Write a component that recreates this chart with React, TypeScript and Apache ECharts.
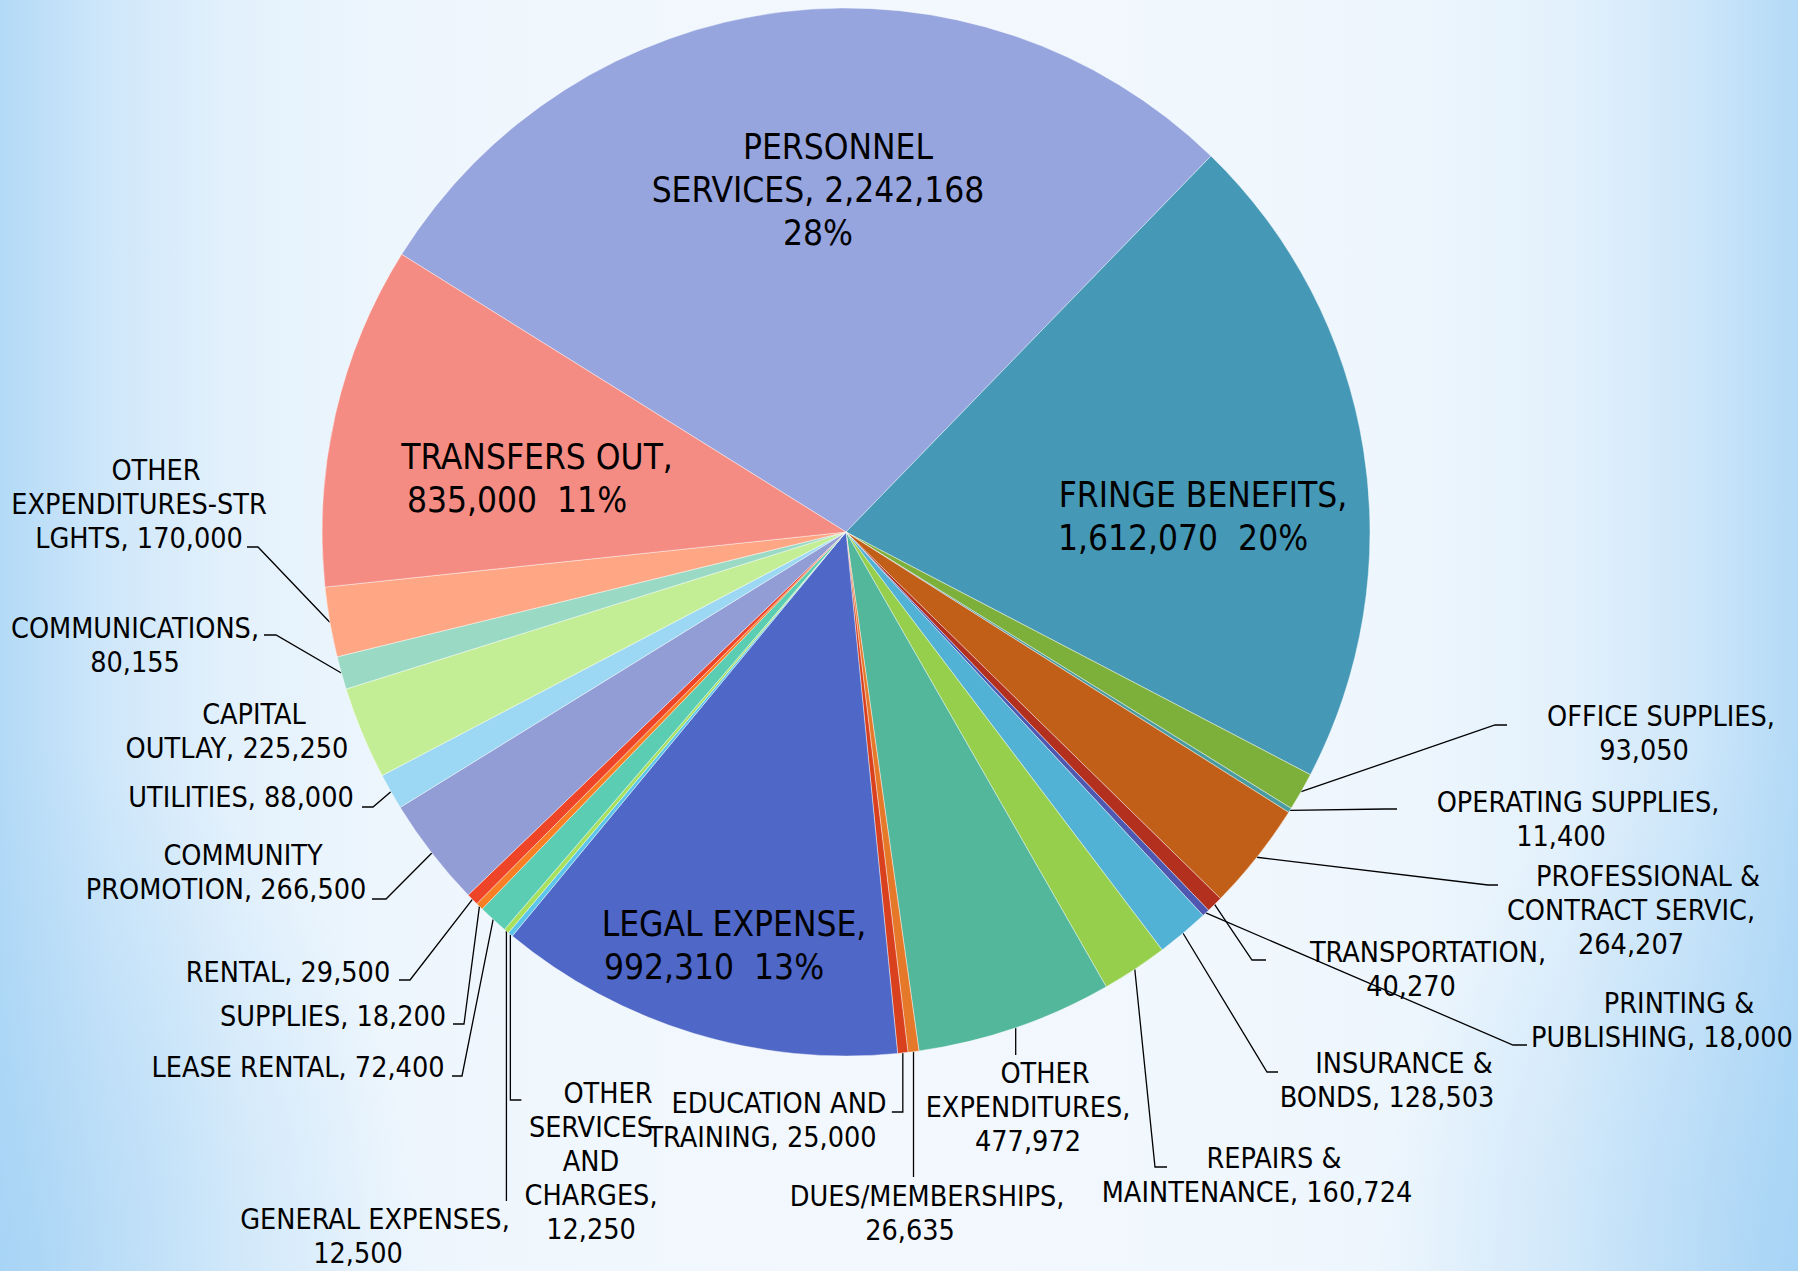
import React, { useEffect, useRef } from "react";
import * as echarts from "echarts";

// ---- data ----
const categories: string[] = [
  "PERSONNEL SERVICES",
  "FRINGE BENEFITS",
  "OFFICE SUPPLIES",
  "OPERATING SUPPLIES",
  "PROFESSIONAL & CONTRACT SERVIC",
  "TRANSPORTATION",
  "PRINTING & PUBLISHING",
  "INSURANCE & BONDS",
  "REPAIRS & MAINTENANCE",
  "OTHER EXPENDITURES",
  "DUES/MEMBERSHIPS",
  "EDUCATION AND TRAINING",
  "LEGAL EXPENSE",
  "OTHER SERVICES AND CHARGES",
  "GENERAL EXPENSES",
  "LEASE RENTAL",
  "SUPPLIES",
  "RENTAL",
  "COMMUNITY PROMOTION",
  "UTILITIES",
  "CAPITAL OUTLAY",
  "COMMUNICATIONS",
  "OTHER EXPENDITURES-STR LGHTS",
  "TRANSFERS OUT",
];

const values: number[] = [
  2242168, 1612070, 93050, 11400, 264207, 40270, 18000, 128503, 160724, 477972,
  26635, 25000, 992310, 12250, 12500, 72400, 18200, 29500, 266500, 88000, 225250,
  80155, 170000, 835000,
];

const colors: string[] = [
  "#96A5DE", "#4698B7", "#7DB03B", "#4A9BA0", "#C15F18", "#B3301F", "#4F58B0",
  "#52B2D6", "#95CF4B", "#52B79B", "#E6782A", "#D9401E", "#4F67C6", "#5BC5EC",
  "#A8E05C", "#5ACDB2", "#FA7E24", "#EE4428", "#929DD6", "#9CD8F3", "#C4EE95",
  "#9ADAC4", "#FFA784", "#F48C84",
];

// labels shown inside their slices (with percentage)
const insideNames: string[] = ["PERSONNEL SERVICES", "FRINGE BENEFITS", "TRANSFERS OUT", "LEGAL EXPENSE"];

// label wrapping (%v = value, %p = percent)
const NB = "\u00A0";
const labelLines: Record<string, string[]> = {
  "PERSONNEL SERVICES": ["PERSONNEL", "SERVICES, %v", "%p"],
  "FRINGE BENEFITS": ["FRINGE BENEFITS,", "%v" + NB + NB + "%p"],
  "TRANSFERS OUT": ["TRANSFERS OUT,", "%v" + NB + NB + "%p"],
  "LEGAL EXPENSE": ["LEGAL EXPENSE,", "%v" + NB + NB + "%p"],
  "OTHER EXPENDITURES-STR LGHTS": ["OTHER", "EXPENDITURES-STR", "LGHTS, %v"],
  "COMMUNICATIONS": ["COMMUNICATIONS,", "%v"],
  "CAPITAL OUTLAY": ["CAPITAL", "OUTLAY, %v"],
  "UTILITIES": ["UTILITIES, %v"],
  "COMMUNITY PROMOTION": ["COMMUNITY", "PROMOTION, %v"],
  "RENTAL": ["RENTAL, %v"],
  "SUPPLIES": ["SUPPLIES, %v"],
  "LEASE RENTAL": ["LEASE RENTAL, %v"],
  "GENERAL EXPENSES": ["GENERAL EXPENSES,", "%v"],
  "OTHER SERVICES AND CHARGES": ["OTHER", "SERVICES", "AND", "CHARGES,", "%v"],
  "EDUCATION AND TRAINING": ["EDUCATION AND", "TRAINING, %v"],
  "DUES/MEMBERSHIPS": ["DUES/MEMBERSHIPS,", "%v"],
  "OTHER EXPENDITURES": ["OTHER", "EXPENDITURES,", "%v"],
  "REPAIRS & MAINTENANCE": ["REPAIRS &", "MAINTENANCE, %v"],
  "INSURANCE & BONDS": ["INSURANCE &", "BONDS, %v"],
  "TRANSPORTATION": ["TRANSPORTATION,", "%v"],
  "PRINTING & PUBLISHING": ["PRINTING &", "PUBLISHING, %v"],
  "PROFESSIONAL & CONTRACT SERVIC": ["PROFESSIONAL &", "CONTRACT SERVIC,", "%v"],
  "OPERATING SUPPLIES": ["OPERATING SUPPLIES,", "%v"],
  "OFFICE SUPPLIES": ["OFFICE SUPPLIES,", "%v"],
};

// ---- label layout (positions of label blocks and leader-line ends) ----
type LineSpec = { elbow?: number[]; end?: number[]; downTo?: number; tick?: number };
type Spec = { x: number; y: number; noShift?: boolean; line?: LineSpec };
const layoutSpec: Record<string, Spec> = {
  "PERSONNEL SERVICES": { x: 818, y: 190 },
  "FRINGE BENEFITS": { x: 1183, y: 516 },
  "TRANSFERS OUT": { x: 517, y: 478 },
  "LEGAL EXPENSE": { x: 714, y: 945 },
  "OTHER EXPENDITURES-STR LGHTS": { x: 139, y: 504, line: { elbow: [258, 547], end: [247, 547] } },
  "COMMUNICATIONS": { x: 135, y: 645, noShift: true, line: { elbow: [276, 635], end: [264, 635] } },
  "CAPITAL OUTLAY": { x: 237, y: 731 },
  "UTILITIES": { x: 241, y: 797, line: { elbow: [373, 807], end: [362, 807] } },
  "COMMUNITY PROMOTION": { x: 226, y: 872, line: { elbow: [386, 899], end: [372, 899] } },
  "RENTAL": { x: 288, y: 972, line: { elbow: [410, 980], end: [399, 980] } },
  "SUPPLIES": { x: 333, y: 1016, line: { elbow: [464, 1024], end: [453, 1024] } },
  "LEASE RENTAL": { x: 298, y: 1067, line: { elbow: [462, 1076], end: [452, 1076] } },
  "GENERAL EXPENSES": { x: 358, y: 1236, line: { downTo: 1201, tick: 0 } },
  "OTHER SERVICES AND CHARGES": { x: 591, y: 1161, line: { downTo: 1100, tick: 11 } },
  "EDUCATION AND TRAINING": { x: 762, y: 1120, line: { downTo: 1112, tick: -11 } },
  "DUES/MEMBERSHIPS": { x: 910, y: 1213, line: { downTo: 1177, tick: 0 } },
  "OTHER EXPENDITURES": { x: 1028, y: 1107, line: { downTo: 1055, tick: 0 } },
  "REPAIRS & MAINTENANCE": { x: 1257, y: 1175, line: { elbow: [1155, 1167], end: [1167, 1167] } },
  "INSURANCE & BONDS": { x: 1387, y: 1080, line: { elbow: [1267, 1072], end: [1278, 1072] } },
  "TRANSPORTATION": { x: 1411, y: 969, line: { elbow: [1252, 960], end: [1266, 960] } },
  "PRINTING & PUBLISHING": { x: 1662, y: 1020, line: { elbow: [1513, 1045], end: [1527, 1045] } },
  "PROFESSIONAL & CONTRACT SERVIC": { x: 1631, y: 910, line: { elbow: [1488, 885], end: [1498, 885] } },
  "OPERATING SUPPLIES": { x: 1561, y: 819, line: { elbow: [1385, 809], end: [1397, 809] } },
  "OFFICE SUPPLIES": { x: 1644, y: 733, line: { elbow: [1495, 725], end: [1507, 725] } },
};

const FONT = '"DejaVu Sans Condensed", "DejaVu Sans", sans-serif';

export default function App() {
  const ref = useRef<HTMLDivElement>(null);

  useEffect(() => {
    if (!ref.current) return;
    const chart = echarts.init(ref.current, null, { renderer: "svg" });
    const total = values.reduce((a, b) => a + b, 0);

    const base = { fontFamily: FONT, color: "#000", align: "center" };
    const rich: any = {
      Os: { ...base, fontSize: 28.5, lineHeight: 34, padding: [0, 0, 0, 34] },
      On: { ...base, fontSize: 28.5, lineHeight: 34 },
      Is: { ...base, fontSize: 35, lineHeight: 43, padding: [0, 0, 0, 40] },
      In: { ...base, fontSize: 35, lineHeight: 43 },
    };

    const formatter = (p: any) => {
      const name: string = p.name;
      const inside = insideNames.includes(name);
      const pct = Math.round((p.value / total) * 100) + "%";
      const v = Number(p.value).toLocaleString("en-US");
      const lines = (labelLines[name] || [name + ", %v"]).map((l) =>
        l.replace("%v", v).replace("%p", pct)
      );
      const spec = layoutSpec[name];
      const shift = lines.length > 1 && !(spec && spec.noShift);
      const pre = inside ? "I" : "O";
      return lines
        .map((l, i) => `{${pre}${i === 0 && shift ? "s" : "n"}|${l}}`)
        .join("\n");
    };

    const data = categories.map((name, i) => {
      const inside = insideNames.includes(name);
      const spec = layoutSpec[name];
      return {
        name,
        value: values[i],
        itemStyle: { color: colors[i] },
        label: { position: inside ? "inside" : "outside" },
        labelLine: { show: !inside && !!(spec && spec.line) },
      };
    });

    chart.setOption({
      animation: false,
      backgroundColor: "transparent",
      series: [
        {
          type: "pie",
          center: [846, 532],
          radius: [0, 524],
          startAngle: 148,
          clockwise: true,
          avoidLabelOverlap: false,
          silent: true,
          itemStyle: { borderColor: "rgba(255,255,255,0.7)", borderWidth: 0.6 },
          label: {
            show: true,
            color: "#000",
            fontFamily: FONT,
            fontSize: 28.5,
            lineHeight: 34,
            align: "center",
            verticalAlign: "middle",
            overflow: "none",
            textBorderWidth: 0,
            rich,
            formatter,
          },
          labelLine: {
            show: true,
            length: 10,
            length2: 10,
            smooth: false,
            lineStyle: { color: "#000", width: 1.3 },
          },
          labelLayout: (params: any) => {
            const name = categories[params.dataIndex];
            const spec = layoutSpec[name];
            if (!spec) return {};
            const out: any = { x: spec.x, y: spec.y, align: "center", verticalAlign: "middle" };
            const pts = params.labelLinePoints;
            if (spec.line && pts && pts.length) {
              const a = pts[0];
              const ln = spec.line;
              if (ln.downTo != null) {
                const p1 = [a[0], ln.downTo];
                out.labelLinePoints = ln.tick
                  ? [a, p1, [a[0] + ln.tick, ln.downTo]]
                  : [a, p1];
              } else if (ln.elbow && ln.end) {
                out.labelLinePoints = [a, ln.elbow, ln.end];
              }
            }
            return out;
          },
          data,
        },
      ],
    });

    return () => chart.dispose();
  }, []);

  const bg = [
    "radial-gradient(ellipse 24% 42% at 0% 100%, rgba(160,208,244,0.6), rgba(160,208,244,0))",
    "radial-gradient(ellipse 24% 42% at 100% 100%, rgba(160,208,244,0.6), rgba(160,208,244,0))",
    "linear-gradient(90deg, #B3DAF7 0%, #CFE7FA 6%, #E3F1FC 13%, #EEF6FD 22%, #F3F8FE 50%, #EEF6FD 78%, #E3F1FC 87%, #CFE7FA 94%, #B3DAF7 100%)",
  ].join(",");

  return (
    <div
      ref={ref}
      style={{
        position: "absolute",
        left: 0,
        top: 0,
        width: 1798,
        height: 1271,
        background: bg,
      }}
    />
  );
}
